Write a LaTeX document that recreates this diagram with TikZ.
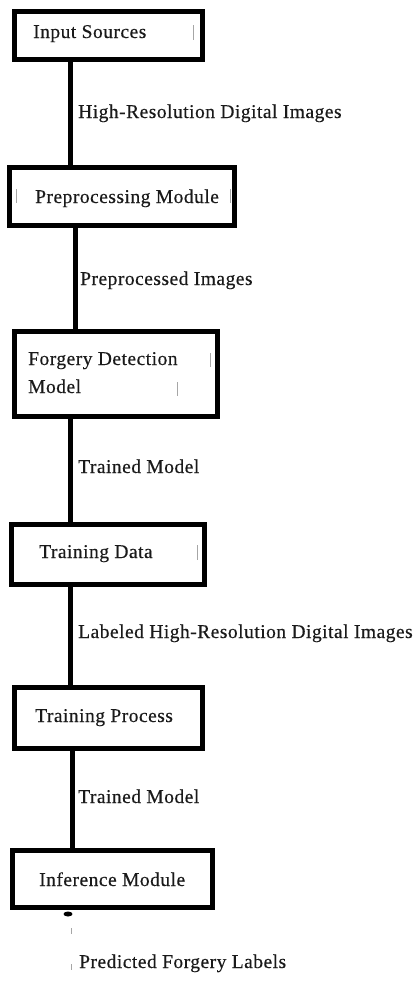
\documentclass[tikz,border=0pt]{standalone}
\usepackage{fontspec}
\setmainfont{Liberation Serif}[LetterSpace=2.5,FakeBold=0.4]
\usetikzlibrary{calc}
\definecolor{txt}{HTML}{1A1A1A}
\begin{document}
\begin{tikzpicture}[x=1bp,y=-1bp,
  box/.style={draw=black,line width=5bp,rectangle,inner sep=0pt},
  lbl/.style={anchor=base west,inner sep=0pt,text=txt,font=\fontsize{19.5bp}{22bp}\selectfont},
  link/.style={draw=black,line width=5bp},
  tick/.style={draw=gray!70,line width=0.8bp}]
\useasboundingbox (0,0) rectangle (416,990);
% boxes
\node[box,minimum width=188bp,minimum height=48bp] (b1) at (108.5,35.5) {};
\node[box,minimum width=225bp,minimum height=58bp] (b2) at (122,196.5) {};
\node[box,minimum width=203bp,minimum height=85bp] (b3) at (116,374) {};
\node[box,minimum width=193bp,minimum height=60bp] (b4) at (108,554.5) {};
\node[box,minimum width=188bp,minimum height=61bp] (b5) at (108.5,718) {};
\node[box,minimum width=200bp,minimum height=57bp] (b6) at (112.5,879) {};
% box texts
\node[lbl] (t1) at (33,38) {Input Sources};
\node[lbl] (t2) at (35,203) {Preprocessing Module};
\node[lbl] (t3a) at (28,365) {Forgery Detection};
\node[lbl] (t3b) at (28,393) {Model};
\node[lbl] (t4) at (39,558) {Training Data};
\node[lbl] (t5) at (35,722) {Training Process};
\node[lbl] (t6) at (39,886) {Inference Module};
% connectors
\draw[link] (b1.south -| 70,0) -- (b2.north -| 70,0);
\draw[link] (b2.south -| 75,0) -- (b3.north -| 75,0);
\draw[link] (b3.south -| 70,0) -- (b4.north -| 70,0);
\draw[link] (b4.south -| 70,0) -- (b5.north -| 70,0);
\draw[link] (b5.south -| 72,0) -- (b6.north -| 72,0);
% connector labels
\node[lbl] (l1) at (78,118) {High-Resolution Digital Images};
\node[lbl] (l2) at (80,285) {Preprocessed Images};
\node[lbl] (l3) at (78,473) {Trained Model};
\node[lbl] (l4) at (78,638) {Labeled High-Resolution Digital Images};
\node[lbl] (l5) at (78,803) {Trained Model};
% output
\fill[black] (68,914) ellipse [x radius=4.5bp, y radius=2.5bp];
\coordinate (o1) at (71,928);
\coordinate (o2) at (71,990);
\draw[gray!70,line width=1bp,dash pattern=on 6bp off 30bp] (o1) -- (o2);
\node[lbl] (l6) at (79,968) {Predicted Forgery Labels};
% small artifacts
\draw[tick] (193,25) -- (193,40);
\draw[tick] (230,189) -- (230,203);
\draw[tick] (16,189) -- (16,203);
\draw[tick] (210,353) -- (210,367);
\draw[tick] (177,382) -- (177,396);
\draw[tick] (197,545) -- (197,560);
\end{tikzpicture}
\end{document}
